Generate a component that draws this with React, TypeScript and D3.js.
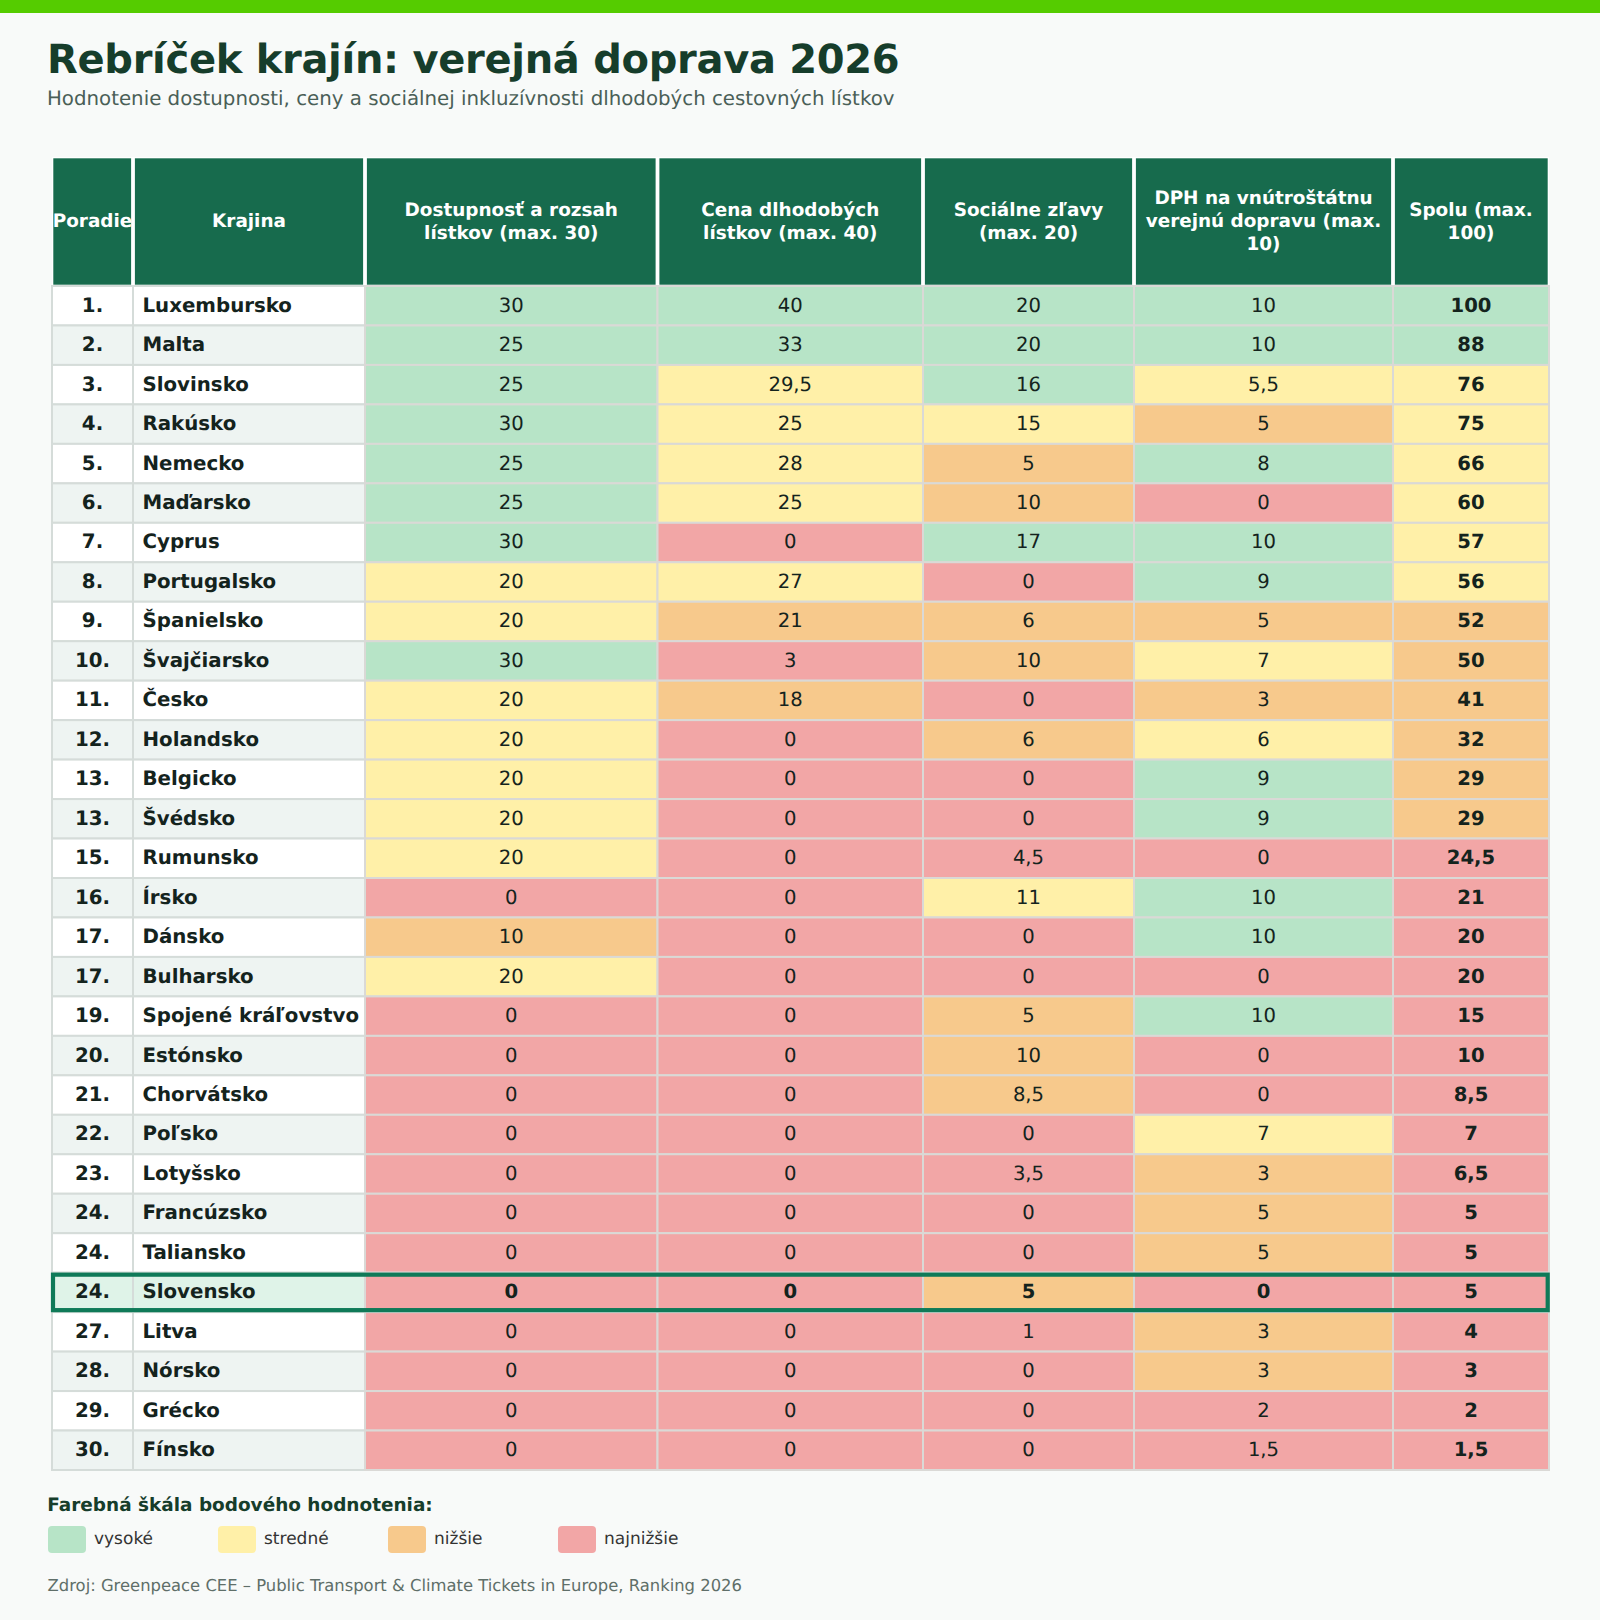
import React from "react";
import * as d3 from "d3";

const title = "Rebríček krajín: verejná doprava 2026";
const subtitle = "Hodnotenie dostupnosti, ceny a sociálnej inkluzívnosti dlhodobých cestovných lístkov";
const headers: string[][] = [
  ["Poradie"],
  ["Krajina"],
  ["Dostupnosť a rozsah", "lístkov (max. 30)"],
  ["Cena dlhodobých", "lístkov (max. 40)"],
  ["Sociálne zľavy", "(max. 20)"],
  ["DPH na vnútroštátnu", "verejnú dopravu (max.", "10)"],
  ["Spolu (max.", "100)"],
];
const ranks = [1,2,3,4,5,6,7,8,9,10,11,12,13,13,15,16,17,17,19,20,21,22,23,24,24,24,27,28,29,30];
const countries = ["Luxembursko","Malta","Slovinsko","Rakúsko","Nemecko","Maďarsko","Cyprus","Portugalsko","Španielsko","Švajčiarsko","Česko","Holandsko","Belgicko","Švédsko","Rumunsko","Írsko","Dánsko","Bulharsko","Spojené kráľovstvo","Estónsko","Chorvátsko","Poľsko","Lotyšsko","Francúzsko","Taliansko","Slovensko","Litva","Nórsko","Grécko","Fínsko"];
const access = [30,25,25,30,25,25,30,20,20,30,20,20,20,20,20,0,10,20,0,0,0,0,0,0,0,0,0,0,0,0];
const price = [40,33,29.5,25,28,25,0,27,21,3,18,0,0,0,0,0,0,0,0,0,0,0,0,0,0,0,0,0,0,0];
const social = [20,20,16,15,5,10,17,0,6,10,0,6,0,0,4.5,11,0,0,5,10,8.5,0,3.5,0,0,5,1,0,0,0];
const vat = [10,10,5.5,5,8,0,10,9,5,7,3,6,9,9,0,10,10,0,10,0,0,7,3,5,5,0,3,3,2,1.5];
const totals = [100,88,76,75,66,60,57,56,52,50,41,32,29,29,24.5,21,20,20,15,10,8.5,7,6.5,5,5,5,4,3,2,1.5];
const maxima = [30,40,20,10,100];
const legendLabels = ["vysoké","stredné","nižšie","najnižšie"];
const legendTitle = "Farebná škála bodového hodnotenia:";
const source = "Zdroj: Greenpeace CEE – Public Transport & Climate Tickets in Europe, Ranking 2026";
const highlighted = "Slovensko";

const FONT = "'DejaVu Sans', sans-serif";
const palette = ["#f2a6a6", "#f7c98c", "#fff0a8", "#b7e4c7"];
const shade = d3.scaleThreshold<number, string>().domain([0.25, 0.55, 0.8]).range(palette);
const columnEdges = [52, 133, 365, 657.5, 923, 1134, 1393, 1549];
const columns = d3.range(7).map(String);
const y = d3.scaleBand<number>().domain(d3.range(30)).range([286, 1470]);
const fmt = (v: number) => String(v).replace(".", ",");
const series = [access, price, social, vat, totals];

export default function App() {
  const cx = (c: number) => (columnEdges[c] + columnEdges[c + 1]) / 2;
  const bh = y.bandwidth();
  return (
    <svg width={1600} height={1620} viewBox="0 0 1600 1620" textRendering="geometricPrecision" style={{ position: "absolute", left: 0, top: 0, fontFamily: FONT }}>
      <rect width={1600} height={1620} fill="#f8faf9" />
      <rect width={1600} height={13} fill="#55cc00" />
      <text x={47} y={73} fontSize={40} letterSpacing={-0.3} fontWeight={700} fill="#163d2b">{title}</text>
      <text x={47} y={105.3} fontSize={19.8} fill="#4a5f57">{subtitle}</text>

      <rect x={52} y={157} width={1497} height={128.5} fill="#fff" />
      {columns.map((k, c) => (
        <g key={k}>
          <rect x={columnEdges[c] + (c === 0 ? 1.3 : 1.9)} y={158.3} width={columnEdges[c + 1] - columnEdges[c] - (c === 0 || c === 6 ? 3.2 : 3.8)} height={126.4} fill="#176b4d" />
          {headers[c].map((line, i) => (
            <text key={i} x={cx(c)} y={221 + (i - (headers[c].length - 1) / 2) * 23 + 6} textAnchor="middle" fontSize={18.4} fontWeight={700} fill="#fff">{line}</text>
          ))}
        </g>
      ))}

      {countries.map((name, r) => {
        const top = y(r)!;
        const base = name === highlighted ? "#dff3e8" : r % 2 === 0 ? "#ffffff" : "#eef4f2";
        const hi = name === highlighted;
        return (
          <g key={name}>
            <rect x={52} y={top} width={81} height={bh} fill={base} stroke="#d5dcd9" strokeWidth={2} />
            <rect x={133} y={top} width={232} height={bh} fill={base} stroke="#d5dcd9" strokeWidth={2} />
            <text x={cx(0)} y={top + bh / 2 + 5.9} textAnchor="middle" fontSize={19.8} fontWeight={700} fill="#14231d">{ranks[r]}.</text>
            <text x={142.5} y={top + bh / 2 + 5.9} fontSize={19.8} fontWeight={700} fill="#14231d">{name}</text>
            {series.map((vals, s) => {
              const c = s + 2;
              return (
                <g key={s}>
                  <rect x={columnEdges[c]} y={top} width={columnEdges[c + 1] - columnEdges[c]} height={bh} fill={shade(vals[r] / maxima[s])} stroke="#dad9d6" strokeWidth={2} />
                  <text x={cx(c)} y={top + bh / 2 + 5.9} textAnchor="middle" fontSize={19.6} fontWeight={hi || s === 4 ? 700 : 400} fill="#14231d">{fmt(vals[r])}</text>
                </g>
              );
            })}
          </g>
        );
      })}
      {countries.map((name, r) => name === highlighted && (
        <rect key={name} x={53} y={y(r)! + 2} width={1494.7} height={bh - 4} fill="none" stroke="#0f7a58" strokeWidth={4.2} />
      ))}

      <text x={47.3} y={1511} fontSize={18.45} fontWeight={700} fill="#163d2b">{legendTitle}</text>
      {legendLabels.map((l, i) => (
        <g key={l}>
          <rect x={48 + i * 170} y={1526} width={38} height={27} rx={4} fill={palette[3 - i]} />
          <text x={94 + i * 170} y={1544} fontSize={17} fill="#333">{l}</text>
        </g>
      ))}
      <text x={47.6} y={1591} fontSize={16.4} fill="#5f6f69">{source}</text>
    </svg>
  );
}
